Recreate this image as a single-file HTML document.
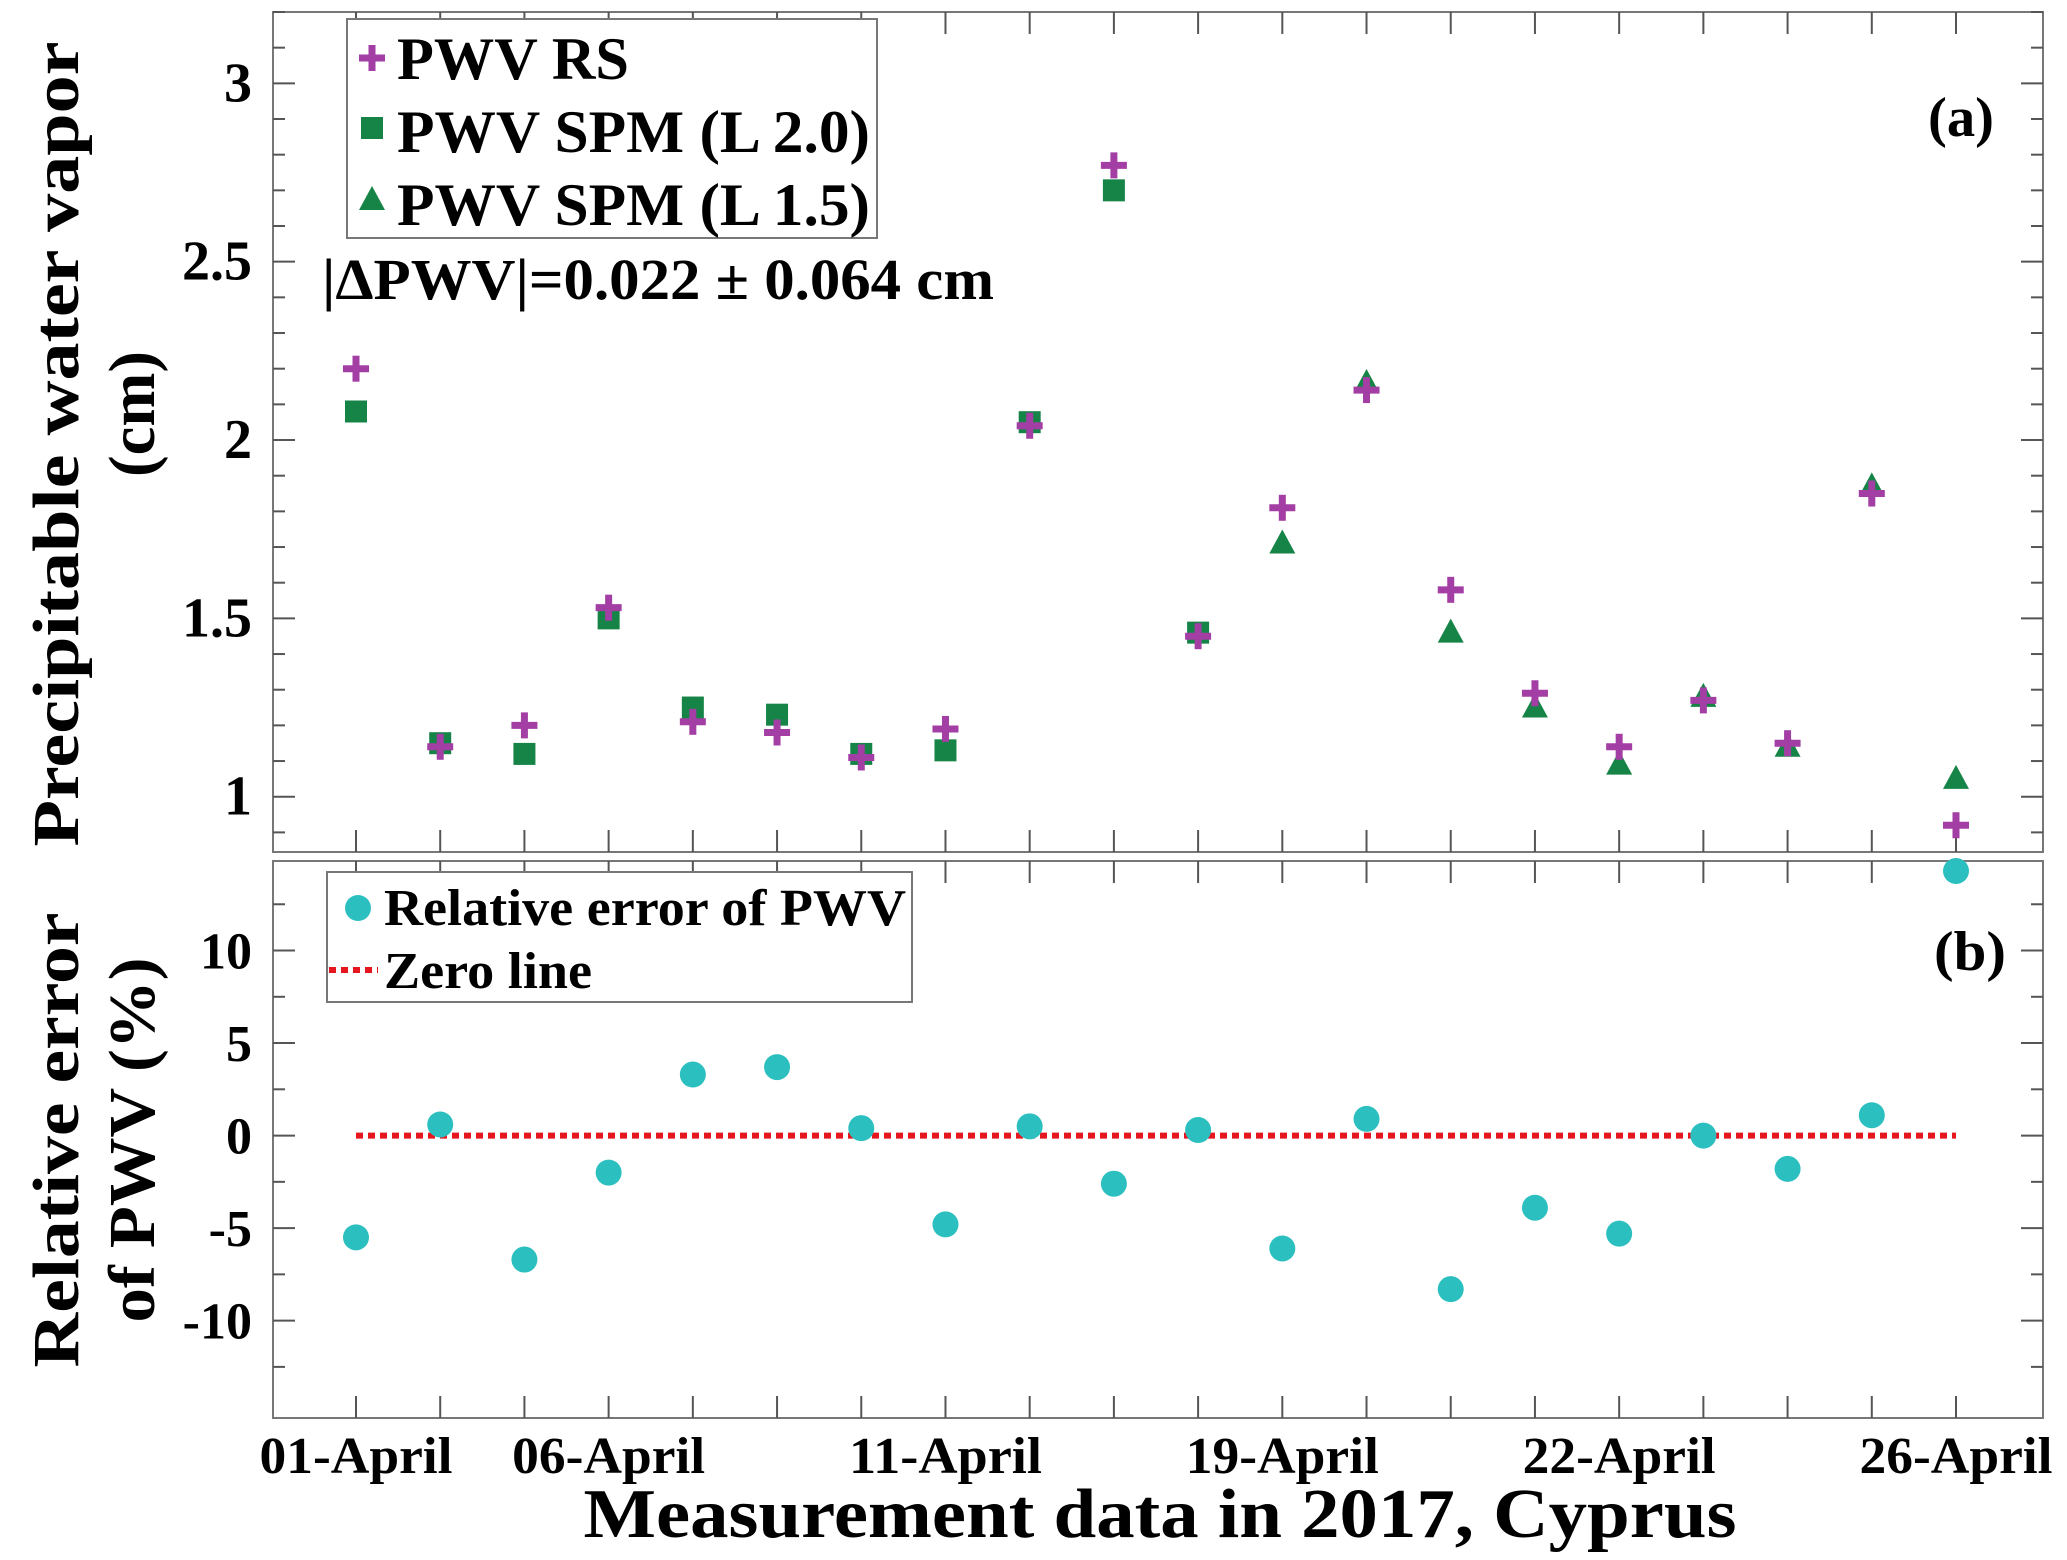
<!DOCTYPE html>
<html><head><meta charset="utf-8"><style>
html,body{margin:0;padding:0;background:#fff}
svg{display:block}
text{font-family:"Liberation Serif",serif;font-weight:bold;fill:#000}
</style></head><body>
<svg id="chart" width="2067" height="1560" viewBox="0 0 2067 1560" xmlns="http://www.w3.org/2000/svg">
<g id="g"></g>
</svg>
<script>
const categories = ["01-April","02-April","05-April","06-April","07-April","08-April","10-April","11-April","12-April","13-April","18-April","19-April","20-April","21-April","21b-April","22-April","23-April","24-April","25-April","26-April"];
const xTickLabels = [[0,"01-April"],[3,"06-April"],[7,"11-April"],[11,"19-April"],[15,"22-April"],[19,"26-April"]];
const pwvRS = [2.2,1.14,1.2,1.53,1.21,1.18,1.11,1.19,2.04,2.77,1.45,1.81,2.14,1.58,1.29,1.14,1.27,1.15,1.85,0.92];
const pwvL20 = [2.08,1.15,1.12,1.5,1.25,1.23,1.12,1.13,2.05,2.7,1.46,null,null,null,null,null,null,null,null,null];
const pwvL15 = [null,null,null,null,null,null,null,null,null,null,null,1.71,2.16,1.46,1.25,1.09,1.28,1.14,1.87,1.05];
const relErr = [-5.5,0.6,-6.7,-2.0,3.3,3.7,0.4,-4.8,0.5,-2.6,0.3,-6.1,0.9,-8.3,-3.9,-5.3,0.0,-1.8,1.1,14.3];
const topTicks = ["1","1.5","2","2.5","3"];
const botTicks = ["-10","-5","0","5","10"];

const NS="http://www.w3.org/2000/svg";
const G=document.getElementById('g');
function mk(tag,attrs,parent){const e=document.createElementNS(NS,tag);for(const k in attrs)e.setAttribute(k,attrs[k]);(parent||G).appendChild(e);return e;}
const L=273,R=2043,T1=12,B1=852,T2=861,B2=1418;
const X0=356,X1=1956;
const xs=i=>X0+(X1-X0)*i/(categories.length-1);
const yTop=v=>B1-(v-0.845)/(3.2-0.845)*(B1-T1);
const yBot=v=>B2-3-(v+15.1)/(30.1)*(B2-T2);
const PURPLE="#a23ea4",GREEN="#168447",CYAN="#2cbfc0",RED="#e5161e";

let f1=mk('rect',{x:L,y:T1,width:R-L,height:B1-T1,fill:'none',stroke:'#777','stroke-width':2});

let f2=mk('rect',{x:L,y:T2,width:R-L,height:B2-T2,fill:'none',stroke:'#777','stroke-width':2});


for(let i=0;i<categories.length;i++){
  const x=xs(i);
  [[B1,-1],[T1,1],[B2,-1],[T2,1]].forEach(([y,d])=>{
    const t=mk('line',{x1:x,x2:x,y1:y,y2:y+d*22,stroke:'#555','stroke-width':2});
    
  });
}
xTickLabels.forEach(([i,lab])=>{
  const t=mk('text',{x:xs(i),y:1473,'font-size':52,'text-anchor':'middle',textLength:193,lengthAdjust:'spacingAndGlyphs'});t.textContent=lab;
  
});
for(let v=0.9;v<=3.2001;v+=0.1){
  const y=yTop(v);const major=Math.abs(v*2-Math.round(v*2))<1e-6;
  [[L,1],[R,-1]].forEach(([x,d])=>{
    const t=mk('line',{x1:x,x2:x+d*(major?22:12),y1:y,y2:y,stroke:'#555','stroke-width':2});
    
  });
}
topTicks.forEach(s=>{
  const t=mk('text',{x:252,y:yTop(parseFloat(s))+18,'font-size':56,'text-anchor':'end'});t.textContent=s;
  
});
for(let v=-12.5;v<=12.5;v+=2.5){
  const y=yBot(v);const major=Math.abs(v%5)<1e-6;
  [[L,1],[R,-1]].forEach(([x,d])=>{
    const t=mk('line',{x1:x,x2:x+d*(major?22:12),y1:y,y2:y,stroke:'#555','stroke-width':2});
    
  });
}
botTicks.forEach(s=>{
  const t=mk('text',{x:252,y:yBot(parseFloat(s))+18,'font-size':52,'text-anchor':'end'});t.textContent=s;
  
});

function plus(x,y,parent){const g=mk('g',{},parent);mk('line',{x1:x-13,x2:x+13,y1:y,y2:y,stroke:PURPLE,'stroke-width':7},g);mk('line',{x1:x,x2:x,y1:y-13,y2:y+13,stroke:PURPLE,'stroke-width':7},g);return g;}
function sq(x,y,parent){return mk('rect',{x:x-11,y:y-11,width:22,height:22,fill:GREEN},parent);}
function tri(x,y,parent){return mk('polygon',{points:`${x},${y-14} ${x+13},${y+10} ${x-13},${y+10}`,fill:GREEN},parent);}
function circ(x,y,parent){return mk('circle',{cx:x,cy:y,r:13,fill:CYAN},parent);}

pwvL20.forEach((v,i)=>{if(v==null)return;const m=sq(xs(i),yTop(v));});
pwvL15.forEach((v,i)=>{if(v==null)return;const m=tri(xs(i),yTop(v));});
pwvRS.forEach((v,i)=>{const m=plus(xs(i),yTop(v));});

let zl=mk('line',{x1:xs(0),x2:xs(categories.length-1),y1:yBot(0),y2:yBot(0),stroke:RED,'stroke-width':6,'stroke-dasharray':'7 5'});

relErr.forEach((v,i)=>{const m=circ(xs(i),yBot(v));});

let lg1=mk('g',{});
mk('rect',{x:347,y:19,width:530,height:219,fill:'#fff',stroke:'#777','stroke-width':2},lg1);
plus(372,58,lg1);sq(372,128,lg1);tri(372,200,lg1);
[["PWV RS",79,232],["PWV SPM (L 2.0)",152,473],["PWV SPM (L 1.5)",225,473]].forEach(([s,y,w])=>{const t=mk('text',{x:397,y:y,'font-size':60,textLength:w,lengthAdjust:'spacingAndGlyphs'},lg1);t.textContent=s;});

let lg2=mk('g',{});
mk('rect',{x:327,y:872,width:585,height:130,fill:'#fff',stroke:'#777','stroke-width':2},lg2);
circ(358,908,lg2);
mk('line',{x1:329,x2:378,y1:970,y2:970,stroke:RED,'stroke-width':6,'stroke-dasharray':'7 5'},lg2);
[["Relative error of PWV",925,522],["Zero line",988,208]].forEach(([s,y,w])=>{const t=mk('text',{x:384,y:y,'font-size':52,textLength:w,lengthAdjust:'spacingAndGlyphs'},lg2);t.textContent=s;});

function txt(s,attrs,name){const t=mk('text',attrs);t.textContent=s;return t;}
txt("|ΔPWV|=0.022 ± 0.064 cm",{x:322,y:299,'font-size':58,textLength:672,lengthAdjust:'spacingAndGlyphs'},'delta-pwv-annotation');
txt("(a)",{x:1928,y:136,'font-size':56,textLength:66,lengthAdjust:'spacingAndGlyphs'},'panel-a-label');
txt("(b)",{x:1934,y:970,'font-size':56,textLength:72,lengthAdjust:'spacingAndGlyphs'},'panel-b-label');
txt("Precipitable water vapor",{x:0,y:0,'font-size':66,'text-anchor':'middle',transform:'translate(78,444) rotate(-90)',textLength:805,lengthAdjust:'spacingAndGlyphs'},'y-axis-title-top');
txt("(cm)",{x:0,y:0,'font-size':66,'text-anchor':'middle',transform:'translate(154,414) rotate(-90)',textLength:126,lengthAdjust:'spacingAndGlyphs'},'y-axis-title-top-unit');
txt("Relative error",{x:0,y:0,'font-size':66,'text-anchor':'middle',transform:'translate(78,1140) rotate(-90)',textLength:455,lengthAdjust:'spacingAndGlyphs'},'y-axis-title-bottom');
txt("of PWV (%)",{x:0,y:0,'font-size':66,'text-anchor':'middle',transform:'translate(154,1140) rotate(-90)',textLength:365,lengthAdjust:'spacingAndGlyphs'},'y-axis-title-bottom-2');
txt("Measurement data in 2017, Cyprus",{x:1160,y:1537,'font-size':70,'text-anchor':'middle',textLength:1153,lengthAdjust:'spacingAndGlyphs'},'x-axis-title');
</script>
</body></html>
